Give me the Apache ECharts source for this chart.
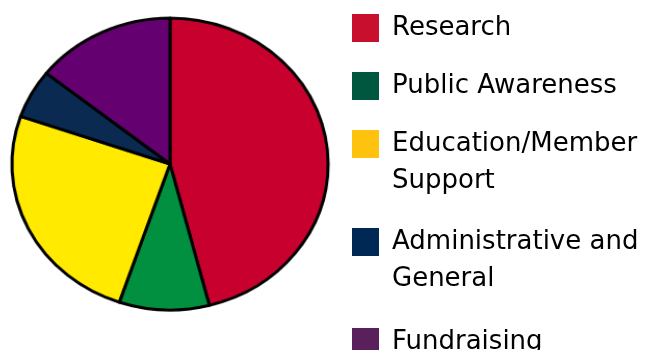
<!DOCTYPE html>
<html><head><meta charset="utf-8">
<script src="https://cdn.jsdelivr.net/npm/echarts@6/dist/echarts.min.js"></script>
<style>
html,body{margin:0;padding:0;background:#fff}
#wrap{position:relative;width:649px;height:350px;overflow:hidden}
#c{position:absolute;left:0;top:0;width:649px;height:350px}
#p{position:absolute;left:0;top:0;width:340px;height:350px;transform-origin:170px 164px;transform:scale(1.04,0.96)}
</style>
</head><body><div id="wrap"><div id="c"></div><div id="p"></div></div>
<script>
const categories = ['Research', 'Public Awareness', 'Education/Member\nSupport', 'Administrative and\nGeneral', 'Fundraising'];
const values = [46, 9.2, 25.1, 5.4, 14.3];
const sliceColors = ['#C8002E', '#009040', '#FFEA00', '#0A2A52', '#650070'];
const legendColors = ['#C8102E', '#00573F', '#FFC20E', '#002855', '#59205C'];

const FONT = 'DejaVu Sans';
const LH = 37;
const iconTops = [14, 72, 130, 228, 328];

const pieSeries = {
  type: 'pie', center: [170, 164], radius: 152, startAngle: 90, clockwise: true,
  label: {show: false}, labelLine: {show: false}, silent: true,
  itemStyle: {borderColor: '#000', borderWidth: 3},
  data: categories.map((n, i) => ({name: n, value: values[i], itemStyle: {color: sliceColors[i]}}))
};

// legend chart (its pie has zero radius; it only supplies the legend names)
const legendChart = echarts.init(document.getElementById('c'));
const legends = categories.map((name, i) => {
  const twoLine = name.indexOf('\n') >= 0;
  const off = twoLine ? (14 - 1.5 * LH) : Math.min(0, 14 - LH / 2);
  return {
    orient: 'vertical', left: 352, top: iconTops[i] + off, padding: 0,
    itemWidth: 27, itemHeight: 28, icon: 'rect', selectedMode: false,
    formatter: n => (twoLine ? '\n' + n : n),
    textStyle: {fontFamily: FONT, fontSize: 26, color: '#000', lineHeight: LH,
      padding: [0, 0, 0, 8]},
    data: [{name: name, itemStyle: {color: legendColors[i], borderWidth: 0, opacity: 1}}]
  };
});
legendChart.setOption({
  animation: false,
  legend: legends,
  series: [Object.assign({}, pieSeries, {radius: 0, itemStyle: {borderWidth: 0}})]
});

// pie chart
const pieChart = echarts.init(document.getElementById('p'));
pieChart.setOption({animation: false, series: [pieSeries]});
</script></body></html>
